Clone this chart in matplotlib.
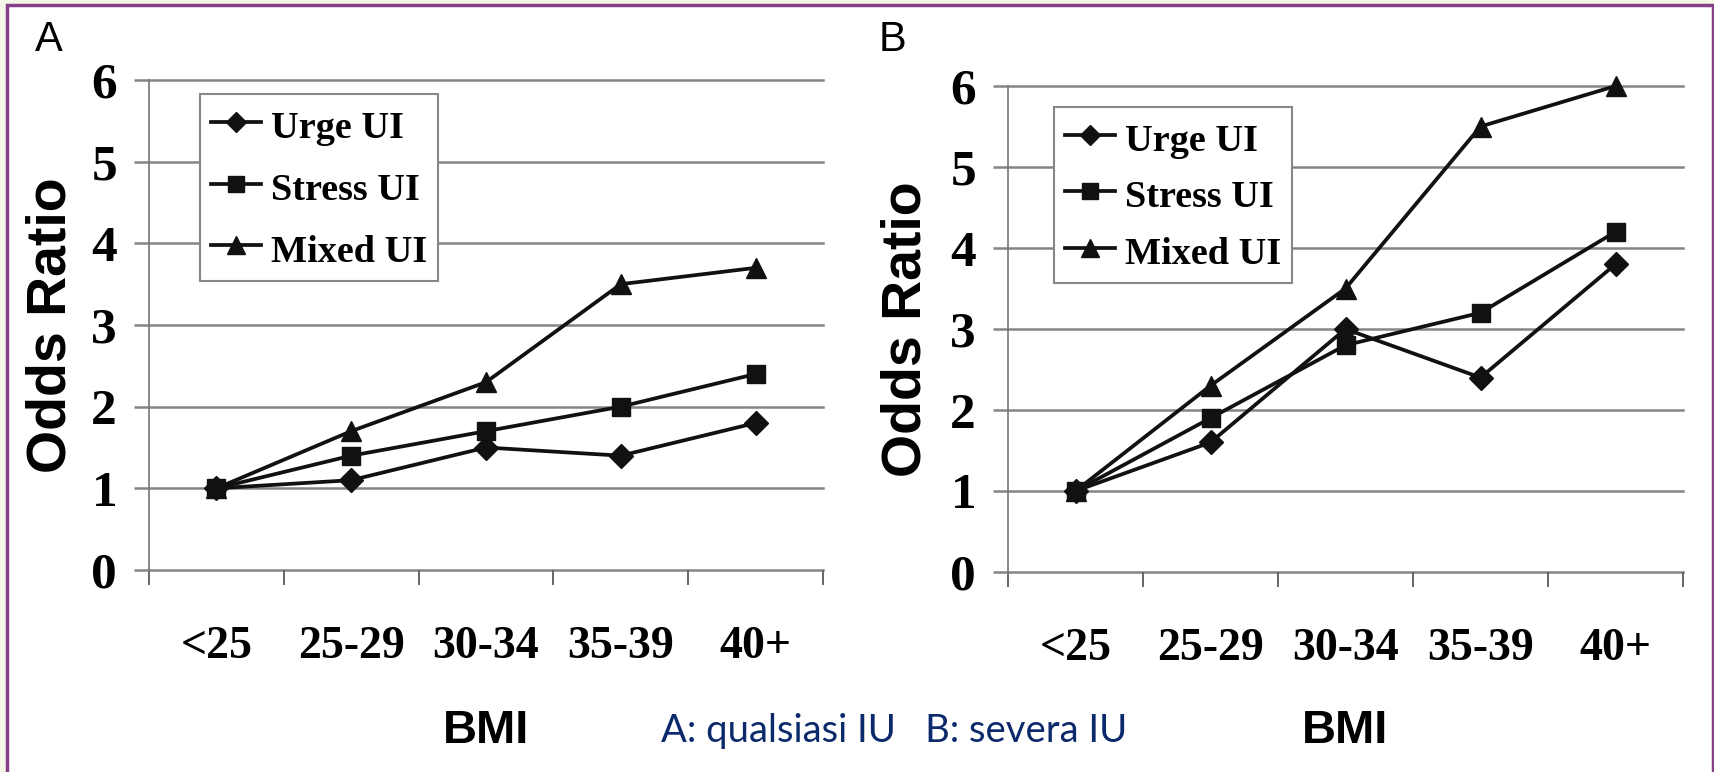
import matplotlib
matplotlib.use("Agg")
import matplotlib.pyplot as plt
from matplotlib.patches import Rectangle

# data
bmi = ["<25", "25-29", "30-34", "35-39", "40+"]
series = ["Urge UI", "Stress UI", "Mixed UI"]
markers = ["D", "s", "^"]
msizes = [12, 13, 15]

urge_a = [1.0, 1.1, 1.5, 1.4, 1.8]
stress_a = [1.0, 1.4, 1.7, 2.0, 2.4]
mixed_a = [1.0, 1.7, 2.3, 3.5, 3.7]

urge_b = [1.0, 1.6, 3.0, 2.4, 3.8]
stress_b = [1.0, 1.9, 2.8, 3.2, 4.2]
mixed_b = [1.0, 2.3, 3.5, 5.5, 6.0]

yticks = [0, 1, 2, 3, 4, 5, 6]

W, H = 1715, 772
fig = plt.figure(figsize=(W / 100, H / 100), dpi=100)
fig.patch.set_facecolor("#f4f7e8")

# white panel with purple frame, behind everything
fig.add_artist(Rectangle((7 / W, -0.05), (1713 - 7) / W, (772 - 5) / H + 0.05,
                         transform=fig.transFigure, facecolor="white",
                         edgecolor="#86408a", lw=2.5, zorder=-10))

serif = "Liberation Serif"
sans = "Liberation Sans"
grid_c = "#858585"


def px_axes(left, top, right, bottom):
    ax = fig.add_axes([left / W, 1 - bottom / H, (right - left) / W, (bottom - top) / H])
    ax.set_facecolor("none")
    return ax


def panel(ax, data, letter, letter_xy, ylab_x, leg_xy, lspace):
    x = list(range(len(bmi)))
    for vals, name, m, ms in zip(data, series, markers, msizes):
        ax.plot(x, vals, color="#111111", lw=2.7, marker=m, markersize=ms,
                label=name, clip_on=False, zorder=5)
    ax.set_xlim(-0.5, len(bmi) - 0.5)
    ax.set_ylim(0, 6)
    for v in yticks:
        ax.axhline(v, color=grid_c, lw=1.8, zorder=1, clip_on=False)
    for s in ["top", "right", "bottom"]:
        ax.spines[s].set_visible(False)
    ax.spines["left"].set_color("#777777")
    ax.spines["left"].set_linewidth(1.2)

    ax.set_yticks(yticks)
    ax.set_yticklabels([str(v) for v in yticks], fontfamily=serif,
                       fontweight="bold", fontsize=37)
    ax.tick_params(axis="y", length=11, width=1.8, color=grid_c, pad=12)

    ax.set_xticks([i - 0.5 for i in range(len(bmi) + 1)])
    ax.set_xticklabels([])
    ax.tick_params(axis="x", which="major", length=11, width=1.4,
                   color="#666666", direction="out")
    ax.set_xticks(x, minor=True)
    ax.set_xticklabels(bmi, minor=True, fontfamily=serif,
                       fontweight="bold", fontsize=33)
    ax.tick_params(axis="x", which="minor", length=0, pad=40)

    pos = ax.get_position()
    cx = (pos.x0 + pos.x1) / 2
    cy = (pos.y0 + pos.y1) / 2
    fig.text(cx, 1 - 731 / H, "BMI", fontfamily=sans, fontweight="bold",
             fontsize=34, ha="center", va="center")
    fig.text(ylab_x / W, cy, "Odds Ratio", fontfamily=sans, fontweight="bold",
             fontsize=40, rotation=90, ha="center", va="center")
    fig.text(letter_xy[0] / W, 1 - letter_xy[1] / H, letter, fontfamily=sans,
             fontsize=30, ha="center", va="center")

    leg = ax.legend(loc="upper left",
                    bbox_to_anchor=(leg_xy[0] / W, 1 - leg_xy[1] / H),
                    bbox_transform=fig.transFigure,
                    prop={"family": serif, "weight": "bold", "size": 27.5},
                    handlelength=1.3, handleheight=1.2, handletextpad=0.25,
                    labelspacing=lspace, borderpad=0.3, borderaxespad=0,
                    fancybox=False, framealpha=1, edgecolor="#888888",
                    markerscale=0.85)
    leg.get_frame().set_linewidth(1.5)
    leg.set_zorder(10)


ax_a = px_axes(149, 80, 823, 570)
panel(ax_a, [urge_a, stress_a, mixed_a], "A", (49, 40), 52, (200, 94), 0.56)

ax_b = px_axes(1008, 86, 1683, 572)
panel(ax_b, [urge_b, stress_b, mixed_b], "B", (893, 40), 907, (1054, 107), 0.42)

fig.text(661 / W, 1 - 731 / H, "A: qualsiasi IU   B: severa IU",
         fontfamily="Lato", fontsize=27.5, color="#0b2a6b",
         ha="left", va="center")

fig.savefig("out.png", dpi=100, facecolor=fig.get_facecolor())
